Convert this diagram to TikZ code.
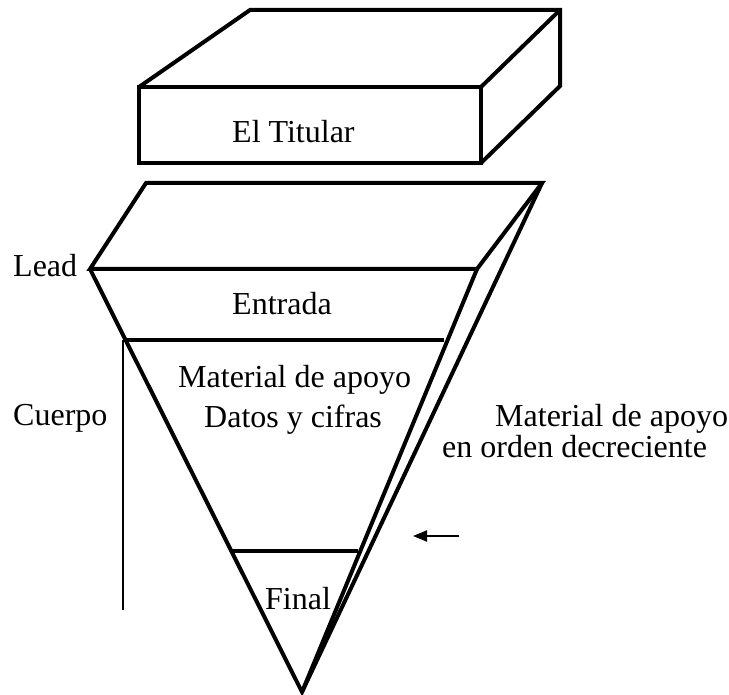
\documentclass[tikz,border=0pt]{standalone}
\usepackage{fontspec}
\setmainfont{Liberation Serif}
\usetikzlibrary{arrows.meta}
\begin{document}
\begin{tikzpicture}[x=1pt,y=-1pt,
  thickline/.style={line width=4pt},
  thinline/.style={line width=1.6pt},
  lbl/.style={anchor=base west,inner sep=0pt,font=\fontsize{32}{36}\selectfont}]
\useasboundingbox (0,0) rectangle (729,695);
% box
\coordinate (fl) at (139,87);
\coordinate (fr) at (481,87);
\coordinate (br) at (481,163);
\coordinate (bl) at (139,163);
\coordinate (tl) at (250,10);
\coordinate (tr) at (560,10);
\coordinate (rb) at (560,86);
\draw[thickline] (fl) -- (fr) -- (br) -- (bl) -- cycle;
\draw[thickline] (fl) -- (tl) -- (tr) -- (rb) -- (br);
\draw[thickline] (fr) -- (tr);
% pyramid
\coordinate (pl) at (90,269);
\coordinate (pr) at (477,269);
\coordinate (ptl) at (146,183);
\coordinate (ptr) at (542,183);
\coordinate (apex) at (302,692);
\draw[thickline] (pl) -- (ptl) -- (ptr) -- (pr) -- cycle;
\draw[thickline] (pl) -- (apex) -- (pr);
\draw[thickline] (ptr) -- (apex);
\coordinate (e1) at (125,340);
\coordinate (e2) at (444,340);
\draw[thickline] (e1) -- (e2);
\coordinate (f1) at (232,551);
\coordinate (f2) at (358,551);
\draw[thickline] (f1) -- (f2);
% cuerpo line
\coordinate (c1) at (123,340);
\coordinate (c2) at (123,610);
\draw[thinline] (c1) -- (c2);
% arrow
\coordinate (a1) at (459,536);
\coordinate (a2) at (413,536);
\draw[line width=2pt,-{Triangle[length=14pt,width=11pt]}] (a1) -- (a2);
% texts
\node[lbl] (titular) at (232,143) {El Titular};
\node[lbl] (entrada) at (232,315) {Entrada};
\node[lbl] (mat) at (178,388) {Material de apoyo};
\node[lbl] (datos) at (204,427) {Datos y cifras};
\node[lbl] (final) at (265,609) {Final};
\node[lbl] (lead) at (13,277) {Lead};
\node[lbl] (cuerpo) at (13,425) {Cuerpo};
\node[lbl] (mat2) at (495,426) {Material de apoyo};
\node[lbl] (orden) at (442,457) {en orden decreciente};
\end{tikzpicture}
\end{document}
